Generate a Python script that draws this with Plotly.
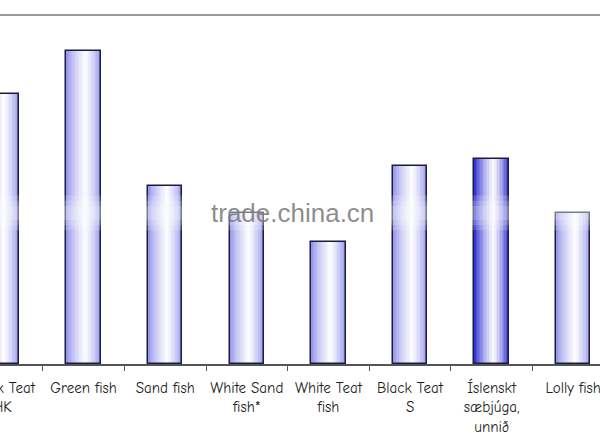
import plotly.graph_objects as go

categories = ["Black Teat<br>HK", "Green fish", "Sand fish", "White Sand<br>fish*",
              "White Teat<br>fish", "Black Teat<br>S", "Íslenskt<br>sæbjúga,<br>unnið",
              "Lolly fish"]
values = [27.2, 31.5, 17.9, 15.2, 12.3, 19.9, 20.6, 15.2]
# edge colour of each bar's gradient (the Icelandic one is darker)
edge_colors = [(140, 140, 235)] * 6 + [(30, 30, 208)] + [(140, 140, 235)]

BAR_W = 0.42
N = 24  # strips per bar to fake the horizontal gradient
PEAK = 0.55


def mix(c, t):
    # t=0 -> edge colour, t=1 -> white
    return "rgb(%d,%d,%d)" % tuple(int(a + (255 - a) * t) for a in c)


fig = go.Figure()

strip = BAR_W / N
for k in range(N):
    pos = (k + 0.5) / N
    if pos < PEAK:
        t = pos / PEAK
    else:
        t = (1 - pos) / (1 - PEAK)
    t = min(1.0, t ** 0.7)
    fig.add_trace(go.Bar(
        x=categories, y=values,
        width=strip * 2 if k < N - 1 else strip,
        offset=-BAR_W / 2 + k * strip,
        marker=dict(color=[mix(c, t) for c in edge_colors], line=dict(width=0)),
        showlegend=False, hoverinfo="skip",
    ))

# outline
fig.add_trace(go.Bar(
    x=categories, y=values, width=BAR_W, offset=-BAR_W / 2,
    marker=dict(color="rgba(0,0,0,0)", line=dict(color="#1c1c3c", width=1.5)),
    showlegend=False,
))

# top border of plot area
fig.add_trace(go.Scatter(x=categories, y=values, xaxis="x2", mode="none",
                         showlegend=False, hoverinfo="skip"))

# watermark with its soft white band
for half in (0.05, 0.035, 0.02):
    fig.add_shape(type="rect", xref="paper", yref="paper", x0=0, x1=1,
                  y0=0.434 - half, y1=0.434 + half,
                  fillcolor="rgba(255,255,255,0.17)", line=dict(width=0), layer="above")
fig.add_annotation(text="trade.china.cn", x=0.487, y=0.434, xref="paper", yref="paper",
                   showarrow=False, font=dict(family="Liberation Sans, Arial", size=26,
                                              color="rgba(120,120,120,0.85)"))

xrange = [-0.0245, 7.328]
fig.update_layout(
    width=600, height=444,
    margin=dict(l=0, r=0, t=16, b=80, autoexpand=False),
    paper_bgcolor="white", plot_bgcolor="white",
    barmode="overlay", bargap=0,
    xaxis=dict(type="category", categoryorder="array", categoryarray=categories,
               range=xrange, automargin=False, showline=True, linecolor="#555",
               linewidth=1.5, ticks="outside", tickson="boundaries", ticklen=5,
               tickcolor="#555", showgrid=False, ticklabelstandoff=9, tickangle=0,
               tickfont=dict(family="Comic Sans MS, Comic Neue, DejaVu Sans", size=15,
                             color="#222")),
    xaxis2=dict(type="category", categoryorder="array", categoryarray=categories,
                range=xrange, overlaying="x", side="top", showline=True,
                automargin=False, linecolor="#999", linewidth=1.5,
                showticklabels=False, ticks="", showgrid=False),
    yaxis=dict(range=[0, 35], visible=False, showgrid=False, automargin=False),
)

fig.write_html("out.html", config={"displayModeBar": False},
               post_script="document.body.style.margin='0';")
